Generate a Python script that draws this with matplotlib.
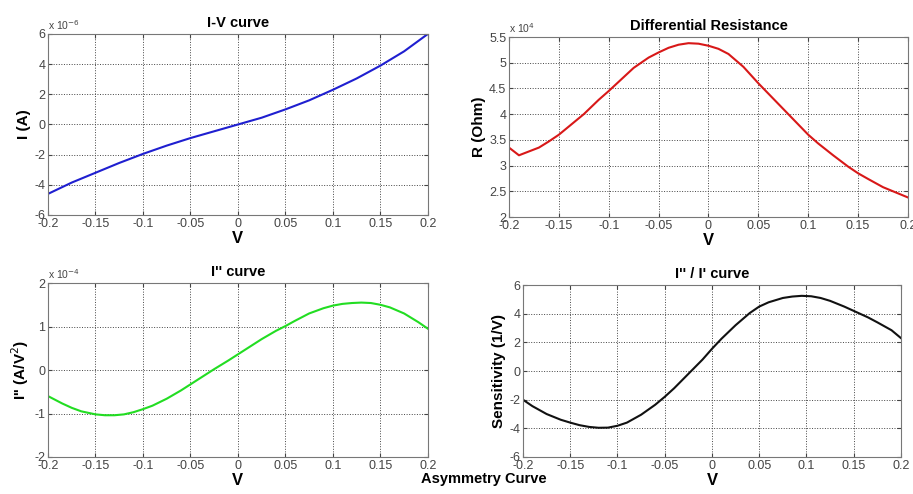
# Four-panel MATLAB-style figure: I-V, differential resistance, I'' and I''/I'
import numpy as np
import matplotlib.pyplot as plt

plt.rcParams['font.family'] = ['Liberation Sans', 'DejaVu Sans']

# --- Data ---
v_iv = [-0.2, -0.175, -0.15, -0.125, -0.1, -0.075, -0.05, -0.025, 0.0,
        0.025, 0.05, 0.075, 0.1, 0.125, 0.15, 0.175, 0.2]
i_iv = [-4.6, -3.85, -3.2, -2.55, -1.95, -1.4, -0.9, -0.45, 0.0,
        0.45, 1.0, 1.6, 2.3, 3.05, 3.9, 4.85, 6.0]            # x 1e-6 A

v_r = [-0.2, -0.19, -0.17, -0.16, -0.15, -0.14, -0.125, -0.11, -0.1, -0.09,
       -0.075, -0.06, -0.05, -0.04, -0.03, -0.02, -0.01, 0.0, 0.01, 0.02,
       0.035, 0.05, 0.06, 0.075, 0.085, 0.1, 0.11, 0.125, 0.14, 0.15,
       0.16, 0.175, 0.185, 0.2]
r_ohm = [3.35, 3.2, 3.35, 3.47, 3.6, 3.76, 4.0, 4.28, 4.45, 4.63,
         4.9, 5.1, 5.2, 5.29, 5.35, 5.38, 5.37, 5.33, 5.27, 5.17,
         4.92, 4.6, 4.4, 4.1, 3.9, 3.6, 3.43, 3.2, 2.98, 2.85,
         2.74, 2.58, 2.5, 2.38]  # x 1e4 Ohm

v_d2 = [-0.2, -0.185, -0.175, -0.165, -0.15, -0.14, -0.13, -0.12, -0.11, -0.1,
        -0.09, -0.075, -0.06, -0.05, -0.04, -0.025, -0.01, 0.0, 0.01, 0.025,
        0.04, 0.05, 0.06, 0.075, 0.09, 0.1, 0.11, 0.12, 0.13, 0.14,
        0.15, 0.16, 0.175, 0.19, 0.2]
i_d2 = [-0.6, -0.77, -0.87, -0.95, -1.02, -1.04, -1.04, -1.02, -0.97, -0.9,
        -0.82, -0.66, -0.47, -0.33, -0.19, 0.02, 0.22, 0.36, 0.5, 0.71,
        0.9, 1.01, 1.13, 1.3, 1.42, 1.48, 1.52, 1.54, 1.55, 1.54,
        1.5, 1.44, 1.3, 1.1, 0.95]     # x 1e-4 A/V^2

v_s = [-0.2, -0.19, -0.175, -0.16, -0.15, -0.14, -0.13, -0.12, -0.11, -0.1,
       -0.09, -0.075, -0.06, -0.05, -0.04, -0.025, -0.01, 0.0, 0.01, 0.025,
       0.04, 0.05, 0.06, 0.075, 0.085, 0.095, 0.105, 0.115, 0.125, 0.14,
       0.15, 0.165, 0.175, 0.19, 0.2]
sens = [-2.0, -2.45, -3.0, -3.4, -3.6, -3.78, -3.9, -3.96, -3.95, -3.82,
        -3.6, -3.05, -2.35, -1.8, -1.2, -0.2, 0.8, 1.55, 2.25, 3.2,
        4.05, 4.5, 4.8, 5.1, 5.2, 5.25, 5.22, 5.1, 4.9, 4.5,
        4.2, 3.75, 3.4, 2.85, 2.3]  # 1/V

x_ticks = [-0.2, -0.15, -0.1, -0.05, 0, 0.05, 0.1, 0.15, 0.2]
x_labels = ['-0.2', '-0.15', '-0.1', '-0.05', '0', '0.05', '0.1', '0.15', '0.2']

fig = plt.figure(figsize=(9.13, 4.94), dpi=100)

panels = [
    # rect, x, y, color, title, ylabel, ylim, yticks, ytick labels, exponent
    ([0.0526, 0.5648, 0.416, 0.3664], v_iv, i_iv, '#1f1fd0', 'I-V curve', 'I (A)',
     (-6, 6), [-6, -4, -2, 0, 2, 4, 6], ['-6', '-4', '-2', '0', '2', '4', '6'], '-6'),
    ([0.5575, 0.5607, 0.437, 0.3644], v_r, r_ohm, '#d81818', 'Differential Resistance', 'R (Ohm)',
     (2, 5.5), [2, 2.5, 3, 3.5, 4, 4.5, 5, 5.5],
     ['2', '2.5', '3', '3.5', '4', '4.5', '5', '5.5'], '4'),
    ([0.0526, 0.0749, 0.416, 0.3522], v_d2, i_d2, '#22dd22', "I'' curve", "I'' (A/V$^2$)",
     (-2, 2), [-2, -1, 0, 1, 2], ['-2', '-1', '0', '1', '2'], '-4'),
    ([0.5728, 0.0749, 0.414, 0.348], v_s, sens, '#111111', "I'' / I' curve", 'Sensitivity (1/V)',
     (-6, 6), [-6, -4, -2, 0, 2, 4, 6], ['-6', '-4', '-2', '0', '2', '4', '6'], None),
]

for rect, xs, ys, c, title, ylab, ylim, yt, ytl, expo in panels:
    ax = fig.add_axes(rect)
    ax.plot(xs, ys, color=c, linewidth=1.5)
    ax.set_xlim(-0.2, 0.2)
    ax.set_ylim(*ylim)
    ax.set_xticks(x_ticks)
    ax.set_xticklabels(x_labels)
    ax.set_yticks(yt)
    ax.set_yticklabels(ytl)
    ax.grid(True, linestyle=':', color='#444444', linewidth=0.7)
    ax.tick_params(direction='in', length=3, labelsize=9, colors='#444444',
                   top=True, right=True, pad=2)
    for s in ax.spines.values():
        s.set_color('#777777')
        s.set_linewidth(0.8)
    ax.set_title(title, fontsize=10.5, fontweight='bold', pad=5)
    ax.set_ylabel(ylab, fontsize=11, fontweight='bold', labelpad=2)
    ax.set_xlabel('V', fontsize=12, fontweight='bold', labelpad=1)
    if expo is not None:
        ax.text(0.0, 1.01, 'x 10$^{%s}$' % expo, transform=ax.transAxes,
                fontsize=7.5, color='#444444', ha='left', va='bottom')

fig.text(0.53, 0.03, 'Asymmetry Curve', fontsize=10.5, fontweight='bold',
         ha='center', va='center')

fig.savefig('out.png', dpi=100)
